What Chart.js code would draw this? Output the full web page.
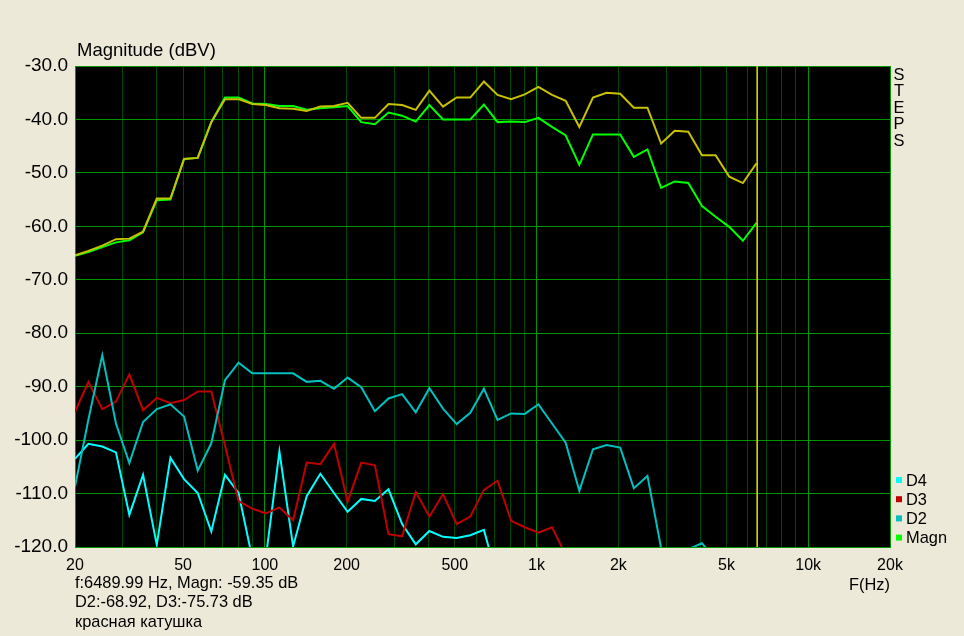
<!DOCTYPE html>
<html>
<head>
<meta charset="utf-8">
<script src="https://cdn.jsdelivr.net/npm/chart.js@4/dist/chart.umd.min.js"></script>
<style>
  body { margin: 0; background: #ece9d8; }
  canvas { display: block; }
</style>
</head>
<body>
<canvas id="chart" width="964" height="636"></canvas>
<script>
// 1/6 octave measurement points (Hz)
const freqs = [20, 22.4, 25.2, 28.3, 31.7, 35.6, 40, 44.9, 50.4, 56.6,
  63.5, 71.3, 80, 89.8, 100.8, 113.1, 127, 142.5, 160, 179.6,
  201.6, 226.3, 254, 285.1, 320, 359.2, 403.2, 452.5, 508, 570.2,
  640, 718.4, 806.3, 905, 1016, 1140, 1280, 1437, 1613, 1810,
  2032, 2281, 2560, 2874, 3225, 3620, 4064, 4561, 5120, 5747, 6450];

const magn = [-65.5, -64.8, -63.9, -63.0, -62.6, -61.1, -55.1, -55.0, -47.4, -47.2,
  -40.5, -35.9, -35.9, -37.0, -37.1, -37.5, -37.5, -38.2, -37.9, -37.7,
  -37.5, -40.5, -40.9, -38.7, -39.3, -40.4, -37.3, -40.0, -40.0, -40.0,
  -37.2, -40.5, -40.4, -40.5, -39.7, -41.4, -43.0, -48.5, -42.8, -42.8,
  -42.8, -47.0, -45.6, -52.8, -51.6, -51.9, -56.2, -58.2, -60.1, -62.7, -59.35];

// stored (yellow) trace
const magnRef = [-65.4, -64.6, -63.6, -62.4, -62.3, -61.0, -54.8, -54.8, -47.4, -47.2,
  -40.5, -36.2, -36.2, -37.1, -37.3, -37.9, -38.0, -38.4, -37.6, -37.5,
  -36.9, -39.7, -39.7, -37.1, -37.3, -38.2, -34.6, -37.6, -35.9, -35.9,
  -32.9, -35.4, -36.2, -35.3, -33.9, -35.4, -36.5, -41.4, -35.9, -35.0,
  -35.2, -37.8, -37.8, -44.5, -42.1, -42.3, -46.7, -46.7, -50.7, -51.9, -48.2];

const d2 = [-108.7, -96.2, -84.1, -96.9, -104.3, -96.6, -94.2, -93.3, -95.6, -105.7,
  -100.6, -88.8, -85.5, -87.5, -87.5, -87.5, -87.5, -89.1, -88.9, -90.4,
  -88.3, -90.1, -94.6, -92.2, -91.4, -94.8, -90.3, -94.1, -97.0, -94.9,
  -90.4, -96.2, -95.0, -95.1, -93.3, -96.9, -100.5, -109.5, -101.7, -100.9,
  -101.4, -109.0, -106.7, -120.2, -123.0, -120.4, -119.3, -122.4, null, null, null];

const d3 = [-94.7, -89.1, -94.2, -92.8, -87.7, -94.4, -92.1, -93.1, -92.5, -90.9,
  -90.9, -101.0, -111.4, -112.8, -113.7, -112.6, -115.0, -104.2, -104.5, -100.7,
  -111.5, -104.2, -104.7, -117.6, -118.0, -109.7, -114.3, -110.1, -115.7, -114.3,
  -109.3, -107.6, -115.1, -116.3, -117.3, -116.3, -121.5, null, null, null,
  null, null, null, null, null, null, null, null, null, null, null];

const d4 = [-103.5, -100.7, -101.2, -102.3, -114.0, -106.5, -119.6, -103.3, -107.3, -109.9,
  -117.1, -106.5, -109.9, -122.0, -122.0, -102.1, -119.9, -110.5, -106.3, -109.9,
  -113.4, -111.0, -111.4, -109.2, -115.7, -119.5, -117.0, -118.1, -118.3, -117.8,
  -116.8, -126.0, null, null, null, null, null, null, null, null,
  null, null, null, null, null, null, null, null, null, null, null];

const gridFreqs = [20, 30, 40, 50, 60, 70, 80, 90, 100, 200, 300, 400, 500, 600, 700, 800, 900,
  1000, 2000, 3000, 4000, 5000, 6000, 7000, 8000, 9000, 10000, 20000];
const freqLabels = {20: '20', 50: '50', 100: '100', 200: '200', 500: '500',
  1000: '1k', 2000: '2k', 5000: '5k', 10000: '10k', 20000: '20k'};
const decadeLines = [20, 100, 1000, 10000, 20000];
const legendOrder = ['D4', 'D3', 'D2', 'Magn'];

const cursorFreq = 6489.99;
const readout = ['f:6489.99 Hz, Magn: -59.35 dB', 'D2:-68.92, D3:-75.73 dB', 'красная катушка'];

const FONT = 'Liberation Sans, Arial, sans-serif';
const brightGrid = '#009600';
const darkGrid = '#004800';

function pts(arr) {
  return freqs.map((f, i) => ({x: f, y: arr[i]}));
}

const frame = {
  id: 'frame',
  beforeDraw(chart) {
    const a = chart.chartArea;
    const c = chart.ctx;
    c.save();
    c.fillStyle = '#000';
    c.fillRect(a.left, a.top, a.right - a.left, a.bottom - a.top);
    c.restore();
  },
  afterDraw(chart) {
    const c = chart.ctx;
    c.save();
    c.fillStyle = '#000';
    c.textBaseline = 'middle';
    c.font = '18.5px ' + FONT;
    c.fillText('Magnitude (dBV)', 77, 51);

    c.font = '16.4px ' + FONT;
    c.textAlign = 'center';
    'STEPS'.split('').forEach((ch, i) => c.fillText(ch, 899, 75 + i * 16.6));

    c.textAlign = 'left';
    readout.forEach((t, i) => c.fillText(t, 75, 583 + i * 19.5));
    c.textAlign = 'right';
    c.fillText('F(Hz)', 890, 585);

    // legend
    c.textAlign = 'left';
    legendOrder.forEach((name, i) => {
      const d = chart.data.datasets.find(ds => ds.label === name);
      const y = 480 + i * 19.2;
      c.fillStyle = d.borderColor;
      c.fillRect(896, y - 3, 6, 6);
      c.fillStyle = '#000';
      c.fillText(d.label, 906, y + 1);
    });
    c.restore();
  }
};

new Chart(document.getElementById('chart'), {
  type: 'line',
  data: {
    datasets: [
      {label: 'Cursor', data: [{x: cursorFreq, y: -30}, {x: cursorFreq, y: -120}],
        borderColor: '#d2d200', borderWidth: 1},
      {label: 'Ref', data: pts(magnRef), borderColor: '#c8c000', borderWidth: 2},
      {label: 'Magn', data: pts(magn), borderColor: '#00ff00', borderWidth: 2},
      {label: 'D2', data: pts(d2), borderColor: '#00c0c0', borderWidth: 2},
      {label: 'D3', data: pts(d3), borderColor: '#c00000', borderWidth: 2},
      {label: 'D4', data: pts(d4), borderColor: '#00ffff', borderWidth: 2}
    ]
  },
  options: {
    responsive: false,
    animation: false,
    devicePixelRatio: 1,
    layout: {padding: {left: 0, top: 66, right: 74, bottom: 0}},
    elements: {point: {radius: 0}, line: {tension: 0}},
    plugins: {legend: {display: false}, tooltip: {enabled: false}},
    scales: {
      x: {
        type: 'logarithmic',
        min: 20,
        max: 20000,
        afterFit(scale) { scale.height = 89; },
        afterBuildTicks(scale) { scale.ticks = gridFreqs.map(v => ({value: v})); },
        grid: {
          drawTicks: false,
          color: ctx => decadeLines.includes(ctx.tick && ctx.tick.value) ? brightGrid : darkGrid
        },
        border: {color: brightGrid},
        ticks: {
          autoSkip: false,
          maxRotation: 0,
          padding: 9,
          color: '#000',
          font: {family: FONT, size: 16},
          callback: v => freqLabels[v] || ''
        }
      },
      y: {
        min: -120,
        max: -30,
        afterFit(scale) { scale.width = 75; },
        grid: {drawTicks: false, color: brightGrid},
        border: {color: brightGrid},
        ticks: {
          stepSize: 10,
          padding: 7,
          color: '#000',
          font: {family: FONT, size: 19},
          callback: v => v.toFixed(1)
        }
      }
    }
  },
  plugins: [frame]
});
</script>
</body>
</html>
